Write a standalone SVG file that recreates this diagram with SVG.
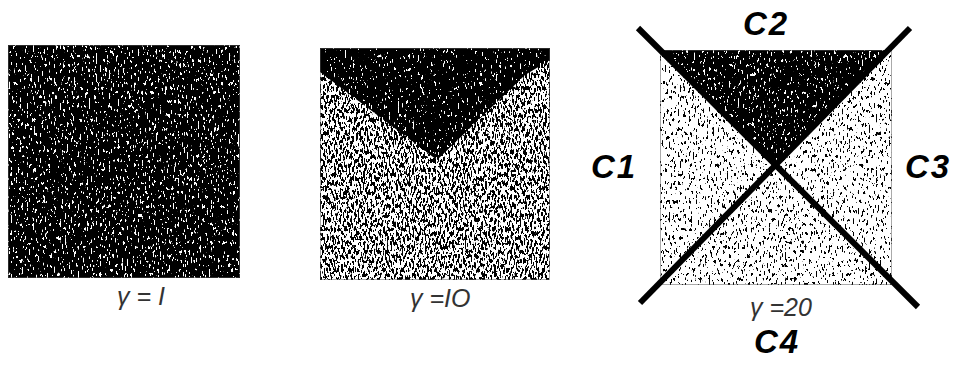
<svg xmlns="http://www.w3.org/2000/svg" width="953" height="365" viewBox="0 0 953 365">
<style>
.lbl{font-family:"Liberation Sans",Arial,sans-serif;font-style:italic;font-weight:bold;font-size:33px;letter-spacing:2px;fill:#000}
.g{font-family:"Liberation Sans",Arial,sans-serif;font-style:italic;font-size:25px;fill:#333}
.edge{fill:none;stroke:#555;stroke-width:1;stroke-dasharray:1 1}
.x{stroke:#000;stroke-width:6;fill:none}
</style>
<defs>
<filter id="dark" x="0" y="0" width="1" height="1" color-interpolation-filters="sRGB">
<feTurbulence type="fractalNoise" baseFrequency="0.55 0.22" numOctaves="2" seed="4"/>
<feColorMatrix type="matrix" values="0 0 0 0 0  0 0 0 0 0  0 0 0 0 0  -40 0 0 0 26.4"/>
</filter>
<filter id="med" x="0" y="0" width="1" height="1" color-interpolation-filters="sRGB">
<feTurbulence type="fractalNoise" baseFrequency="0.55 0.22" numOctaves="2" seed="7"/>
<feColorMatrix type="matrix" values="0 0 0 0 0  0 0 0 0 0  0 0 0 0 0  -40 0 0 0 19.6"/>
</filter>
<filter id="light" x="0" y="0" width="1" height="1" color-interpolation-filters="sRGB">
<feTurbulence type="fractalNoise" baseFrequency="0.55 0.22" numOctaves="2" seed="11"/>
<feColorMatrix type="matrix" values="0 0 0 0 0  0 0 0 0 0  0 0 0 0 0  -40 0 0 0 15"/>
</filter>
<clipPath id="tri2"><polygon points="320,48 550,48 550,60 525,75 437,160 320,72"/></clipPath>
<clipPath id="tri3"><polygon points="660,50 889,50 777,163"/></clipPath>
</defs>
<rect width="953" height="365" fill="#fff"/>
<g id="panel1">
<rect x="8" y="45" width="232" height="233" fill="#000" filter="url(#dark)"/>
<rect class="edge" x="8.5" y="45.5" width="231" height="232"/>
<text class="g" x="117" y="305">γ = I</text>
</g>
<g id="panel2">
<rect x="320" y="48" width="230" height="232" fill="#000" filter="url(#med)"/>
<g clip-path="url(#tri2)"><rect x="320" y="48" width="230" height="232" fill="#000" filter="url(#dark)"/></g>
<rect class="edge" x="320.5" y="48.5" width="229" height="231"/>
<text class="g" x="410" y="307">γ =IO</text>
</g>
<g id="panel3">
<rect x="660" y="50" width="232" height="235" fill="#000" filter="url(#light)"/>
<g clip-path="url(#tri3)"><rect x="660" y="50" width="232" height="235" fill="#000" filter="url(#dark)"/></g>
<rect class="edge" x="660.5" y="50.5" width="231" height="234"/>
<text class="g" x="750" y="316">γ =20</text>
</g>
<g id="lines">
<line class="x" x1="638" y1="28" x2="918" y2="307"/>
<line class="x" x1="910" y1="28" x2="640" y2="303"/>
</g>
<g id="labels">
<text class="lbl" x="743" y="35">C2</text>
<text class="lbl" x="591" y="178">C1</text>
<text class="lbl" x="905" y="178">C3</text>
<text class="lbl" x="754" y="353">C4</text>
</g>
</svg>
